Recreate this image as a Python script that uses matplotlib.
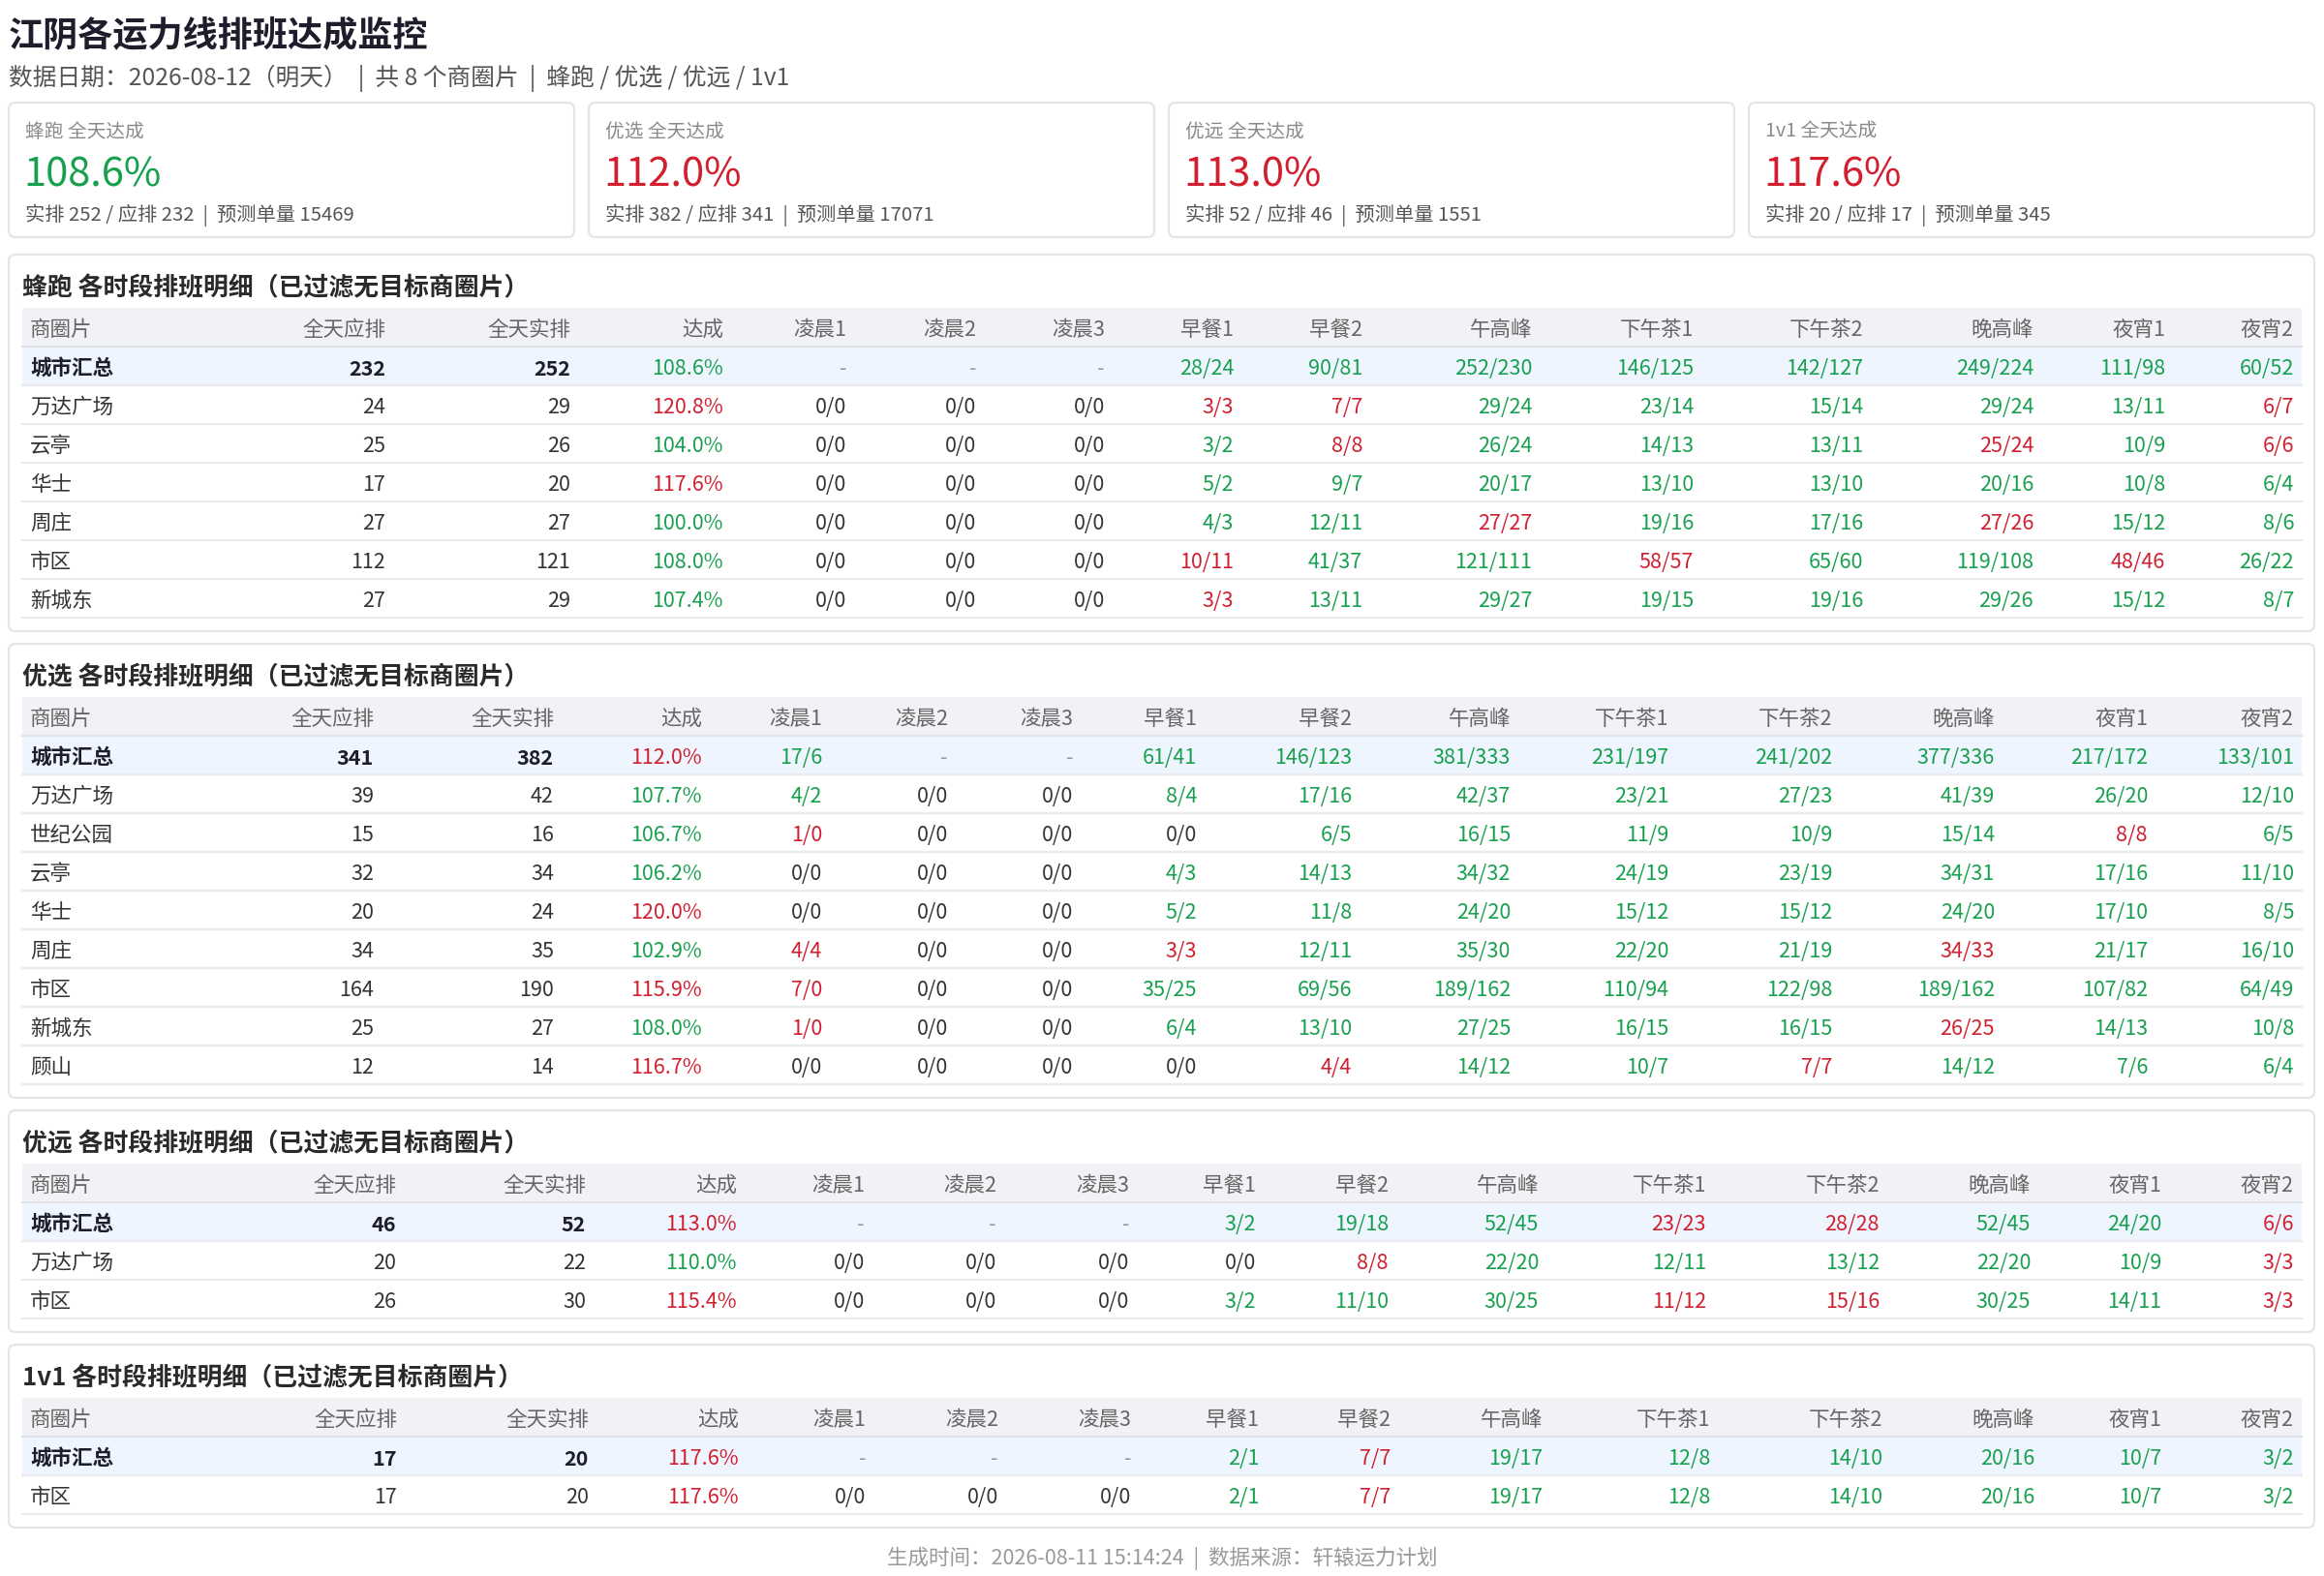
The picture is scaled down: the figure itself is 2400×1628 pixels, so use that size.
import matplotlib
matplotlib.use("Agg")
import matplotlib.pyplot as plt
from matplotlib.patches import FancyBboxPatch, Rectangle

# =========================================================
# 江阴各运力线排班达成监控
# =========================================================

plt.rcParams["font.family"] = ["Noto Sans CJK SC", "DejaVu Sans"]

TITLE = "江阴各运力线排班达成监控"
SUBTITLE = "数据日期：2026-08-12（明天）  |  共 8 个商圈片  |  蜂跑 / 优选 / 优远 / 1v1"
FOOTER = "生成时间：2026-08-11 15:14:24  |  数据来源：轩辕运力计划"

SLOTS = ["凌晨1", "凌晨2", "凌晨3", "早餐1", "早餐2", "午高峰",
         "下午茶1", "下午茶2", "晚高峰", "夜宵1", "夜宵2"]
HEADERS = ["商圈片", "全天应排", "全天实排", "达成"] + SLOTS

# ===== 卡片 =====
CARD_LINES = ["蜂跑", "优选", "优远", "1v1"]
CARD_FORECAST = [15469, 17071, 1551, 345]
CARD_COLORS = ["g", "r", "r", "r"]

# ===== 蜂跑 =====
FP_NAMES = ["城市汇总", "万达广场", "云亭", "华士", "周庄", "市区", "新城东"]
FP_PLAN = [232, 24, 25, 17, 27, 112, 27]
FP_ACTUAL = [252, 29, 26, 20, 27, 121, 29]
FP_SLOTS = [
    ["-", "-", "-", "28/24", "90/81", "252/230", "146/125", "142/127", "249/224", "111/98", "60/52"],
    ["0/0", "0/0", "0/0", "3/3", "7/7", "29/24", "23/14", "15/14", "29/24", "13/11", "6/7"],
    ["0/0", "0/0", "0/0", "3/2", "8/8", "26/24", "14/13", "13/11", "25/24", "10/9", "6/6"],
    ["0/0", "0/0", "0/0", "5/2", "9/7", "20/17", "13/10", "13/10", "20/16", "10/8", "6/4"],
    ["0/0", "0/0", "0/0", "4/3", "12/11", "27/27", "19/16", "17/16", "27/26", "15/12", "8/6"],
    ["0/0", "0/0", "0/0", "10/11", "41/37", "121/111", "58/57", "65/60", "119/108", "48/46", "26/22"],
    ["0/0", "0/0", "0/0", "3/3", "13/11", "29/27", "19/15", "19/16", "29/26", "15/12", "8/7"],
]
# 达成 + 11 个时段的颜色 (g 绿 / r 红 / . 默认)
FP_FLAGS = ["g...gggggggg", "r...rrgggggr", "g...grgggrgr", "r...gggggggg",
            "g...ggrggrgg", "g...rggrggrg", "g...rggggggg"]

# ===== 优选 =====
YX_NAMES = ["城市汇总", "万达广场", "世纪公园", "云亭", "华士", "周庄", "市区", "新城东", "顾山"]
YX_PLAN = [341, 39, 15, 32, 20, 34, 164, 25, 12]
YX_ACTUAL = [382, 42, 16, 34, 24, 35, 190, 27, 14]
YX_SLOTS = [
    ["17/6", "-", "-", "61/41", "146/123", "381/333", "231/197", "241/202", "377/336", "217/172", "133/101"],
    ["4/2", "0/0", "0/0", "8/4", "17/16", "42/37", "23/21", "27/23", "41/39", "26/20", "12/10"],
    ["1/0", "0/0", "0/0", "0/0", "6/5", "16/15", "11/9", "10/9", "15/14", "8/8", "6/5"],
    ["0/0", "0/0", "0/0", "4/3", "14/13", "34/32", "24/19", "23/19", "34/31", "17/16", "11/10"],
    ["0/0", "0/0", "0/0", "5/2", "11/8", "24/20", "15/12", "15/12", "24/20", "17/10", "8/5"],
    ["4/4", "0/0", "0/0", "3/3", "12/11", "35/30", "22/20", "21/19", "34/33", "21/17", "16/10"],
    ["7/0", "0/0", "0/0", "35/25", "69/56", "189/162", "110/94", "122/98", "189/162", "107/82", "64/49"],
    ["1/0", "0/0", "0/0", "6/4", "13/10", "27/25", "16/15", "16/15", "26/25", "14/13", "10/8"],
    ["0/0", "0/0", "0/0", "0/0", "4/4", "14/12", "10/7", "7/7", "14/12", "7/6", "6/4"],
]
YX_FLAGS = ["rg..gggggggg", "gg..gggggggg", "gr...gggggrg", "g...gggggggg", "r...gggggggg",
            "gr..rggggrgg", "rr..gggggggg", "gr..gggggrgg", "r....rggrggg"]

# ===== 优远 =====
YY_NAMES = ["城市汇总", "万达广场", "市区"]
YY_PLAN = [46, 20, 26]
YY_ACTUAL = [52, 22, 30]
YY_SLOTS = [
    ["-", "-", "-", "3/2", "19/18", "52/45", "23/23", "28/28", "52/45", "24/20", "6/6"],
    ["0/0", "0/0", "0/0", "0/0", "8/8", "22/20", "12/11", "13/12", "22/20", "10/9", "3/3"],
    ["0/0", "0/0", "0/0", "3/2", "11/10", "30/25", "11/12", "15/16", "30/25", "14/11", "3/3"],
]
YY_FLAGS = ["r...gggrrggr", "g....rgggggr", "r...gggrrggr"]

# ===== 1v1 =====
V1_NAMES = ["城市汇总", "市区"]
V1_PLAN = [17, 17]
V1_ACTUAL = [20, 20]
V1_SLOTS = [
    ["-", "-", "-", "2/1", "7/7", "19/17", "12/8", "14/10", "20/16", "10/7", "3/2"],
    ["0/0", "0/0", "0/0", "2/1", "7/7", "19/17", "12/8", "14/10", "20/16", "10/7", "3/2"],
]
V1_FLAGS = ["r...grgggggg", "r...grgggggg"]

# ===== 版面 (像素) =====
W, H = 2400, 1628
DY = 3  # 文字垂直微调
GREEN = "#17a04e"
RED = "#d21f2f"
DARK = "#1d1d2b"
TEXT = "#333333"
HEAD_TXT = "#666666"
LABEL = "#8a8a8a"
BORDER = "#e4e4ea"
LINE = "#ebebef"
HEAD_BG = "#f1f2f5"
SUM_BG = "#eef5fe"
FS = 15.5

COLOR_MAP = {"g": GREEN, "r": RED}

# 每张表各列右对齐位置 (HTML 自动列宽)
COL_RIGHT = {
    "fp": [398, 589, 747, 874, 1008, 1141, 1274, 1407, 1582, 1749, 1924, 2100, 2236, 2369],
    "yx": [386, 572, 725, 849, 979, 1108, 1236, 1396, 1560, 1723, 1892, 2060, 2218, 2369],
    "yy": [409, 605, 761, 893, 1029, 1166, 1297, 1434, 1589, 1762, 1941, 2097, 2232, 2369],
    "v1": [410, 608, 763, 894, 1031, 1168, 1300, 1436, 1593, 1766, 1944, 2101, 2232, 2369],
}


def pct(a, p):
    return f"{a / p * 100:.1f}%"


def draw_card(ax, x0, line, actual, plan, forecast, c):
    w = 584
    ax.add_patch(FancyBboxPatch((x0, 106), w, 139,
                                boxstyle="round,pad=0,rounding_size=7",
                                fc="white", ec=BORDER, lw=1.6))
    ax.text(x0 + 17, 133 + DY, f"{line} 全天达成", fontsize=14.2, color=LABEL, va="center")
    ax.text(x0 + 15, 181, pct(actual, plan), fontsize=30, color=COLOR_MAP[c], va="center")
    ax.text(x0 + 17, 219 + DY, f"实排 {actual} / 应排 {plan}  |  预测单量 {forecast}",
            fontsize=14.6, color="#555555", va="center")


def draw_table(ax, top, title, names, plan, actual, slots, flags, col_right):
    n = len(names)
    bottom = top + 95 + 40 * n + 14
    ax.add_patch(FancyBboxPatch((9, top), 2381, bottom - top,
                                boxstyle="round,pad=0,rounding_size=7",
                                fc="white", ec=BORDER, lw=1.6))
    ax.text(23, top + 32 + DY, title, fontsize=18.6, fontweight="bold", color="#2a2a2a", va="center")

    # 表头
    ax.add_patch(Rectangle((23, top + 55), 2354, 39, fc=HEAD_BG, ec="none"))
    ax.text(31, top + 75 + DY, HEADERS[0], fontsize=FS, color=HEAD_TXT, va="center")
    for h, xr in zip(HEADERS[1:], col_right):
        ax.text(xr, top + 75 + DY, h, fontsize=FS, color=HEAD_TXT, va="center", ha="right")
    ax.plot([23, 2377], [top + 94.5, top + 94.5], color="#e2e3e8", lw=1.6)

    for i in range(n):
        y0 = top + 95 + 40 * i
        yc = y0 + 20 + DY
        if i == 0:
            ax.add_patch(Rectangle((23, y0), 2354, 39, fc=SUM_BG, ec="none"))
        ax.plot([23, 2377], [y0 + 40, y0 + 40], color=LINE, lw=1.6)

        bold = "bold" if i == 0 else "normal"
        ax.text(31, yc, names[i], fontsize=FS, color=DARK if i == 0 else TEXT,
                fontweight=bold, va="center")
        ax.text(col_right[0], yc, str(plan[i]), fontsize=FS, color=DARK if i == 0 else TEXT,
                fontweight=bold, va="center", ha="right")
        ax.text(col_right[1], yc, str(actual[i]), fontsize=FS, color=DARK if i == 0 else TEXT,
                fontweight=bold, va="center", ha="right")

        cells = [pct(actual[i], plan[i])] + slots[i]
        for j, (cell, f) in enumerate(zip(cells, flags[i])):
            if cell == "-":
                col = "#999999"
            elif f in COLOR_MAP:
                col = COLOR_MAP[f]
            else:
                col = TEXT
            ax.text(col_right[j + 2], yc, cell, fontsize=FS, color=col,
                    va="center", ha="right")
    return bottom


# =========================================================
# 畫圖
# =========================================================

fig = plt.figure(figsize=(W / 100, H / 100), dpi=100)
ax = fig.add_axes([0, 0, 1, 1])
ax.set_xlim(0, W)
ax.set_ylim(H, 0)
ax.axis("off")

ax.text(9, 34 + DY, TITLE, fontsize=26, fontweight="bold", color=DARK, va="center")
ax.text(9, 78 + DY, SUBTITLE, fontsize=17.8, color="#555555", va="center")

summary = [(FP_ACTUAL[0], FP_PLAN[0]), (YX_ACTUAL[0], YX_PLAN[0]),
           (YY_ACTUAL[0], YY_PLAN[0]), (V1_ACTUAL[0], V1_PLAN[0])]
for k, line in enumerate(CARD_LINES):
    a, p = summary[k]
    draw_card(ax, 9 + k * 599, line, a, p, CARD_FORECAST[k], CARD_COLORS[k])

tables = [
    ("蜂跑", FP_NAMES, FP_PLAN, FP_ACTUAL, FP_SLOTS, FP_FLAGS, COL_RIGHT["fp"]),
    ("优选", YX_NAMES, YX_PLAN, YX_ACTUAL, YX_SLOTS, YX_FLAGS, COL_RIGHT["yx"]),
    ("优远", YY_NAMES, YY_PLAN, YY_ACTUAL, YY_SLOTS, YY_FLAGS, COL_RIGHT["yy"]),
    ("1v1", V1_NAMES, V1_PLAN, V1_ACTUAL, V1_SLOTS, V1_FLAGS, COL_RIGHT["v1"]),
]

top = 263
for line, names, plan, actual, slots, flags, cr in tables:
    bottom = draw_table(ax, top, f"{line} 各时段排班明细（已过滤无目标商圈片）",
                        names, plan, actual, slots, flags, cr)
    top = bottom + 13

ax.text(W / 2, 1607 + DY, FOOTER, fontsize=15.5, color="#9a9a9a", va="center", ha="center")

fig.savefig("out.png", dpi=100, facecolor="white")
